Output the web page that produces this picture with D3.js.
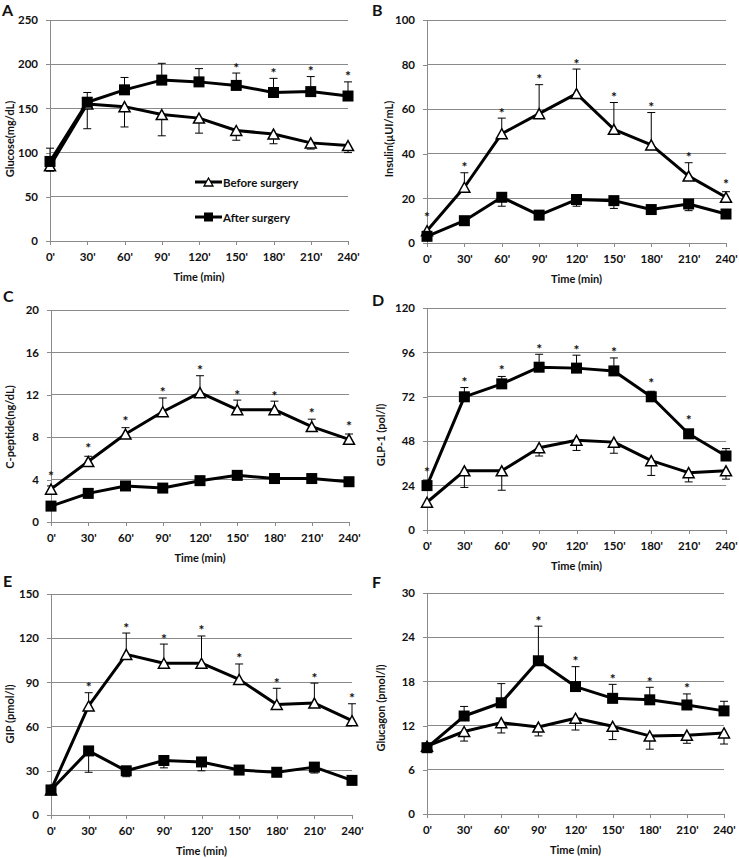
<!DOCTYPE html>
<html><head><meta charset="utf-8">
<script src="https://cdn.jsdelivr.net/npm/d3@7"></script>
<style>
html,body{margin:0;padding:0;background:#fff;}
svg text{font-family:Lato,"Open Sans",Arial,sans-serif;font-weight:700;fill:#111;}
</style></head>
<body>
<svg id="chart" width="739" height="858"></svg>
<script>
// ---------- data ----------
const timeLabels = ["0'","30'","60'","90'","120'","150'","180'","210'","240'"];
const seriesNames = ["Before surgery","After surgery"];

const glucoseBefore   = [85,155,152,143,139,125,121,111,108];
const glucoseBeforeSD = [6,28,23,24,17,11,11,7,8];
const glucoseAfter    = [90,157,171,182,180,176,168,169,164];
const glucoseAfterSD  = [15,11,14,19,15,14,16,17,16];
const glucoseStars    = [0,0,0,0,0,1,1,1,1];

const insulinBefore   = [5.5,25,49,58,67,51,44,30,20.5];
const insulinBeforeSD = [0,6.5,7,13,11,12,14.5,6,2.5];
const insulinAfter    = [3,10,20.5,12.5,19.5,19,15,17.5,13];
const insulinAfterSD  = [1,1,4,1,3,3.5,2,3,1];
const insulinStars    = [1,1,1,1,1,1,1,1,1];

const cpepBefore   = [3.1,5.7,8.3,10.4,12.2,10.6,10.6,9.0,7.8];
const cpepBeforeSD = [0.3,0.5,0.6,1.3,1.6,0.9,0.8,0.7,0.5];
const cpepAfter    = [1.5,2.7,3.4,3.2,3.9,4.4,4.1,4.1,3.8];
const cpepAfterSD  = [0.2,0.4,0.2,0.3,0.2,0.2,0.2,0.3,0.2];
const cpepStars    = [1,1,1,1,1,1,1,1,1];

const glpBefore   = [15,32,32,44.5,48.5,47.5,37.5,31,32];
const glpBeforeSD = [1,9,10.5,4.5,5.5,6,8,5,4.5];
const glpAfter    = [24,72,79,88,87.5,86,72,52,40];
const glpAfterSD  = [3,5,4,7,7,7,3,2,4];
const glpStars    = [1,1,1,1,1,1,1,1,0];

const gipBefore   = [17,74,109,103,103,92,75,76,64];
const gipBeforeSD = [0,9,14.5,13,18.5,10.5,11,13.5,11.5];
const gipAfter    = [17,43.5,30,37,36,30.5,29,32.5,23.5];
const gipAfterSD  = [1,14.5,4,5,6,1.5,1.5,4,1];
const gipStars    = [0,1,1,1,1,1,1,1,1];

const glucagonBefore   = [9.2,11.2,12.4,11.8,13,11.9,10.6,10.7,11];
const glucagonBeforeSD = [0.3,1.3,1.4,1.2,1.6,1.8,1.8,1.1,1.5];
const glucagonAfter    = [9,13.3,15.1,20.8,17.3,15.7,15.5,14.8,14];
const glucagonAfterSD  = [0.3,1.3,2.6,4.7,2.7,1.9,1.7,1.5,1.3];
const glucagonStars    = [0,0,0,1,1,1,1,1,0];

const yLabels = ["Glucose(mg/dL)","Insulin(\u00b5UI/mL)","C-peptide(ng/dL)","GLP-1 (pol/l)","GIP (pmol/l)","Glucagon (pmol/l)"];
const panelLetters = ["A","B","C","D","E","F"];
const yMaxes = [250,100,20,120,150,30];
const ySteps = [50,20,4,24,30,6];
const xTitle = "Time (min)";

// ---------- panels (data refs + layout) ----------
const panels = [
  {before:glucoseBefore, bSD:glucoseBeforeSD, bDir:-1, after:glucoseAfter, aSD:glucoseAfterSD, aDir:1, stars:glucoseStars, starOn:"after",
   x0:50, x1:348, yT:20, yB:241, lx:2, ly:16, tx:9, ty:139, legend:true},
  {before:insulinBefore, bSD:insulinBeforeSD, bDir:1, after:insulinAfter, aSD:insulinAfterSD, aDir:-1, stars:insulinStars, starOn:"before",
   x0:427, x1:726, yT:20, yB:243, lx:372, ly:16, tx:388, ty:139},
  {before:cpepBefore, bSD:cpepBeforeSD, bDir:1, after:cpepAfter, aSD:cpepAfterSD, aDir:-1, stars:cpepStars, starOn:"before",
   x0:51, x1:349, yT:310, yB:522, lx:3, ly:301.5, tx:9, ty:427},
  {before:glpBefore, bSD:glpBeforeSD, bDir:-1, after:glpAfter, aSD:glpAfterSD, aDir:1, stars:glpStars, starOn:"after",
   x0:427, x1:726, yT:308, yB:530, lx:372, ly:306, tx:380, ty:435},
  {before:gipBefore, bSD:gipBeforeSD, bDir:1, after:gipAfter, aSD:gipAfterSD, aDir:-1, stars:gipStars, starOn:"before",
   x0:51, x1:352, yT:594, yB:815, lx:3, ly:586.5, tx:9, ty:714},
  {before:glucagonBefore, bSD:glucagonBeforeSD, bDir:-1, after:glucagonAfter, aSD:glucagonAfterSD, aDir:1, stars:glucagonStars, starOn:"after",
   x0:427, x1:724, yT:593, yB:814, lx:372, ly:588, tx:380, ty:708}
];

const svg = d3.select("#chart");
const gridColor = "#8a8a8a";

function triPath(cx, cy, w, h){
  return `M${cx},${cy-h/2}L${cx+w/2},${cy+h/2}L${cx-w/2},${cy+h/2}Z`;
}

panels.forEach((p, i) => {
  const g = svg.append("g");
  const x = d3.scalePoint().domain(timeLabels).range([p.x0, p.x1]);
  const y = d3.scaleLinear().domain([0, yMaxes[i]]).range([p.yB, p.yT]);
  const ticks = d3.range(0, yMaxes[i] + ySteps[i]/2, ySteps[i]);

  // gridlines
  g.append("g").selectAll("line").data(ticks.filter(t => t > 0)).join("line")
    .attr("x1", p.x0).attr("x2", p.x1)
    .attr("y1", d => y(d)).attr("y2", d => y(d))
    .attr("stroke", gridColor).attr("stroke-width", 1).attr("shape-rendering","crispEdges");

  // y axis
  const ya = g.append("g").attr("transform", `translate(${p.x0},0)`)
    .call(d3.axisLeft(y).tickValues(ticks).tickSize(4).tickPadding(8).tickFormat(d3.format("d")));
  ya.select(".domain").attr("stroke", gridColor).attr("shape-rendering","crispEdges");
  ya.selectAll(".tick line").attr("stroke", gridColor).attr("shape-rendering","crispEdges");
  ya.selectAll("text").attr("font-size", 11.5).attr("font-family","Lato,'Open Sans',Arial,sans-serif")
    .attr("font-weight",700).attr("fill","#111");

  // x axis
  const xa = g.append("g").attr("transform", `translate(0,${p.yB})`)
    .call(d3.axisBottom(x).tickSize(4).tickPadding(8));
  xa.select(".domain").attr("stroke", gridColor).attr("shape-rendering","crispEdges");
  xa.selectAll(".tick line").attr("stroke", gridColor).attr("shape-rendering","crispEdges");
  xa.selectAll("text").attr("font-size", 11.5).attr("font-family","Lato,'Open Sans',Arial,sans-serif")
    .attr("font-weight",700).attr("fill","#111");

  // titles
  g.append("text").attr("x", (p.x0+p.x1)/2).attr("y", p.yB + 40)
    .attr("text-anchor","middle").attr("font-size", 11).text(xTitle);
  g.append("text").attr("transform", `translate(${p.tx},${p.ty}) rotate(-90)`)
    .attr("text-anchor","middle").attr("dominant-baseline","central").attr("font-size", 11)
    .text(yLabels[i]);
  g.append("text").attr("x", p.lx).attr("y", p.ly).attr("font-size", 16)
    .attr("font-family","Arial,'Liberation Sans',sans-serif").text(panelLetters[i]);

  const series = [
    {vals:p.before, sd:p.bSD, dir:p.bDir, kind:"tri"},
    {vals:p.after, sd:p.aSD, dir:p.aDir, kind:"sq"}
  ];

  // error bars
  series.forEach(s => {
    const eb = g.append("g").attr("stroke","#000").attr("stroke-width",1);
    s.vals.forEach((v, k) => {
      if (!s.sd[k]) return;
      const xe = x(timeLabels[k]);
      const ye = y(v + s.dir * s.sd[k]);
      eb.append("line").attr("x1", xe).attr("x2", xe).attr("y1", y(v)).attr("y2", ye);
      eb.append("line").attr("x1", xe-4).attr("x2", xe+4).attr("y1", ye).attr("y2", ye);
    });
  });

  // lines + markers
  const line = d3.line().x((d,k) => x(timeLabels[k])).y(d => y(d));
  series.forEach(s => {
    g.append("path").datum(s.vals).attr("d", line)
      .attr("fill","none").attr("stroke","#000").attr("stroke-width",3).attr("stroke-linejoin","round");
    if (s.kind === "tri") {
      g.append("g").selectAll("path").data(s.vals).join("path")
        .attr("d", (d,k) => triPath(x(timeLabels[k]), y(d), 11, 10))
        .attr("fill","#fff").attr("stroke","#000").attr("stroke-width",1.5);
    } else {
      g.append("g").selectAll("rect").data(s.vals).join("rect")
        .attr("x", (d,k) => x(timeLabels[k]) - 5.5).attr("y", d => y(d) - 5.5)
        .attr("width", 11).attr("height", 11).attr("fill","#000");
    }
  });

  // significance stars
  const sSer = p.starOn === "before" ? series[0] : series[1];
  p.stars.forEach((st, k) => {
    if (!st) return;
    const v = sSer.vals[k];
    const yErr = y(v + Math.max(0, sSer.dir) * sSer.sd[k]);
    const yc = Math.min(yErr, y(v) - 8) - 8;
    g.append("text").attr("x", x(timeLabels[k])).attr("y", yc + 7.5)
      .attr("text-anchor","middle").attr("font-size", 14)
      .attr("font-family","Arial,'Liberation Sans',sans-serif").text("*");
  });

  // legend (panel A)
  if (p.legend) {
    const lg = g.append("g");
    [182, 217].forEach((ly, j) => {
      lg.append("line").attr("x1",195).attr("x2",222).attr("y1",ly).attr("y2",ly)
        .attr("stroke","#000").attr("stroke-width",3);
      if (j === 0) lg.append("path").attr("d", triPath(208.5, ly, 9, 8)).attr("fill","#fff").attr("stroke","#000").attr("stroke-width",1.3);
      else lg.append("rect").attr("x",204).attr("y",ly-4.5).attr("width",9).attr("height",9).attr("fill","#000");
      lg.append("text").attr("x",223).attr("y",ly).attr("dominant-baseline","central")
        .attr("font-size", 11.5).text(seriesNames[j]);
    });
  }
});
</script>
</body></html>
